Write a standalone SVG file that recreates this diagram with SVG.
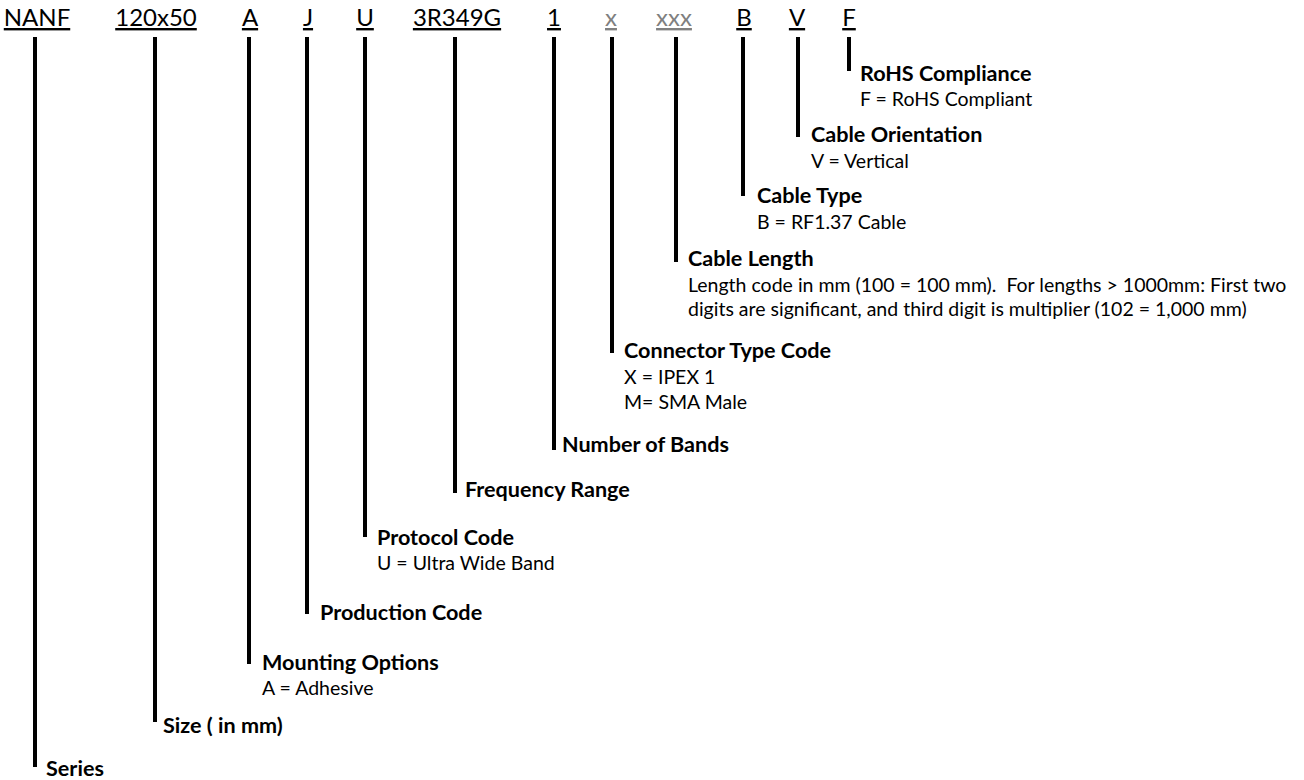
<svg xmlns="http://www.w3.org/2000/svg" width="1304" height="780" viewBox="0 0 1304 780">
<style>
  text { font-family: Lato, "Liberation Sans", sans-serif; fill: #000; }
  .code { font-size: 24px; text-anchor: middle; text-decoration: underline; }
  .gray { fill: #808080; }
  .lbl { font-size: 21.6px; font-weight: bold; }
  .sub { font-size: 19.5px; white-space: pre; }
  .bar { stroke: #000; stroke-width: 4; fill: none; }
</style>
<rect width="1304" height="780" fill="#fff"/>
<g id="connectors">
  <line class="bar" x1="35" y1="37" x2="35" y2="767"/>
  <line class="bar" x1="155" y1="37" x2="155" y2="722"/>
  <line class="bar" x1="249" y1="37" x2="249" y2="664"/>
  <line class="bar" x1="307" y1="37" x2="307" y2="614"/>
  <line class="bar" x1="365" y1="37" x2="365" y2="537"/>
  <line class="bar" x1="455" y1="37" x2="455" y2="493"/>
  <line class="bar" x1="554" y1="37" x2="554" y2="450"/>
  <line class="bar" x1="612" y1="37" x2="612" y2="353"/>
  <line class="bar" x1="676" y1="37" x2="676" y2="262"/>
  <line class="bar" x1="743" y1="37" x2="743" y2="196"/>
  <line class="bar" x1="798" y1="37" x2="798" y2="137"/>
  <line class="bar" x1="849" y1="37" x2="849" y2="71"/>
</g>
<g id="series">
  <text class="code" x="37" y="26">NANF</text>
  <text class="lbl" x="46" y="776">Series</text>
</g>
<g id="size">
  <text class="code" x="156" y="26">120x50</text>
  <text class="lbl" x="163" y="733">Size ( in mm)</text>
</g>
<g id="mounting">
  <text class="code" x="250" y="26">A</text>
  <text class="lbl" x="262" y="670">Mounting Options</text>
  <text class="sub" x="262" y="695">A = Adhesive</text>
</g>
<g id="production">
  <text class="code" x="308" y="26">J</text>
  <text class="lbl" x="320" y="620">Production Code</text>
</g>
<g id="protocol">
  <text class="code" x="365" y="26">U</text>
  <text class="lbl" x="377" y="545">Protocol Code</text>
  <text class="sub" x="377" y="570">U = Ultra Wide Band</text>
</g>
<g id="frequency">
  <text class="code" x="457" y="26">3R349G</text>
  <text class="lbl" x="465" y="497">Frequency Range</text>
</g>
<g id="bands">
  <text class="code" x="554" y="26">1</text>
  <text class="lbl" x="562" y="452">Number of Bands</text>
</g>
<g id="connector">
  <text class="code gray" x="611" y="26">x</text>
  <text class="lbl" x="624" y="358">Connector Type Code</text>
  <text class="sub" x="624" y="384">X = IPEX 1</text>
  <text class="sub" x="624" y="409">M= SMA Male</text>
</g>
<g id="length">
  <text class="code gray" x="674" y="26">xxx</text>
  <text class="lbl" x="688" y="266">Cable Length</text>
  <text class="sub" x="688" y="292">Length code in mm (100 = 100 mm).  For lengths &gt; 1000mm: First two</text>
  <text class="sub" x="688" y="316">digits are significant, and third digit is multiplier (102 = 1,000 mm)</text>
</g>
<g id="type">
  <text class="code" x="744" y="26">B</text>
  <text class="lbl" x="757" y="203">Cable Type</text>
  <text class="sub" x="757" y="229">B = RF1.37 Cable</text>
</g>
<g id="orientation">
  <text class="code" x="797" y="26">V</text>
  <text class="lbl" x="811" y="142">Cable Orientation</text>
  <text class="sub" x="811" y="168">V = Vertical</text>
</g>
<g id="rohs">
  <text class="code" x="849" y="26">F</text>
  <text class="lbl" x="860" y="81">RoHS Compliance</text>
  <text class="sub" x="860" y="106">F = RoHS Compliant</text>
</g>
</svg>
